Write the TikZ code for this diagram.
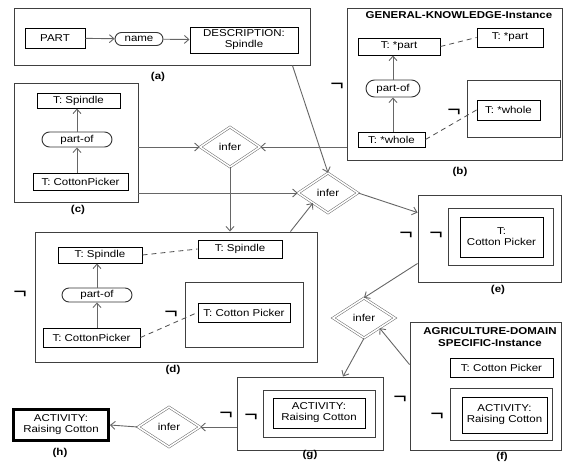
\documentclass[tikz,border=0pt]{standalone}
\usepackage{fontspec}
\setmainfont{Liberation Sans}[FakeStretch=1.15]
\usetikzlibrary{shapes.geometric,shapes.misc,arrows.meta}
\begin{document}
\begin{tikzpicture}[x=1pt,y=-1pt,
  every node/.style={font=\fontsize{10}{11}\selectfont, inner sep=0pt, align=center},
  frame/.style={draw=black!75, line width=0.9pt, rectangle},
  cbox/.style={draw=black, line width=1pt, rectangle},
  pill/.style={draw=black!80, line width=0.9pt, rounded rectangle},
  infer/.style={diamond, draw=black!60, line width=0.5pt, double, double distance=1.6pt, minimum width=60pt, minimum height=40pt},
  conn/.style={draw=black!60, line width=0.9pt, -{Straight Barb[length=4.5pt,width=8pt]}},
  dashline/.style={draw=black!70, line width=0.8pt, dash pattern=on 5pt off 4pt},
  neg/.style={font=\fontsize{20}{20}\selectfont, yshift=-4pt},
  capt/.style={font=\bfseries\fontsize{10}{11}\selectfont},
  ttl/.style={font=\bfseries\fontsize{10}{12}\selectfont}
]
\useasboundingbox (0,0) rectangle (563,464);

% (a)
\node[frame, minimum width=296pt, minimum height=57pt] (a) at (162,36.5) {};
\node[cbox, minimum width=60pt, minimum height=20pt] (part) at (55,38) {PART};
\node[pill, minimum width=48pt, minimum height=13pt] (name) at (139,39) {name};
\node[cbox, minimum width=108pt, minimum height=26pt] (desc) at (244,40) {DESCRIPTION:\\Spindle};
\node[capt] (capa) at (158,77) {(a)};

% (b)
\node[frame, minimum width=215pt, minimum height=152pt] (b) at (454.5,84) {};
\node[ttl] (btitle) at (459,15) {GENERAL-KNOWLEDGE-Instance};
\node[cbox, minimum width=82pt, minimum height=17pt] (bpart) at (399,46.5) {T: *part};
\node[cbox, minimum width=66pt, minimum height=19pt] (bpartr) at (510,37.5) {T: *part};
\node[pill, minimum width=54pt, minimum height=17pt] (bpo) at (393,88.5) {part-of};
\node[cbox, minimum width=67pt, minimum height=15pt] (bwhole) at (391.5,139.5) {T: *whole};
\node[frame, minimum width=93pt, minimum height=57pt] (bin) at (513.5,108.5) {};
\node[cbox, minimum width=63pt, minimum height=20pt] (bwholer) at (508.5,110) {T: *whole};
\node[neg] (nb1) at (454,109) {¬};
\node[neg] (nb2) at (337,83) {¬};
\node[capt] (capb) at (460,172) {(b)};

% (c)
\node[frame, minimum width=124pt, minimum height=119pt] (c) at (76,142.5) {};
\node[cbox, minimum width=83pt, minimum height=15pt] (cspin) at (78.5,100.5) {T: Spindle};
\node[pill, minimum width=70pt, minimum height=15pt] (cpo) at (77,139.5) {part-of};
\node[cbox, minimum width=95pt, minimum height=17pt] (ccp) at (80.5,181.5) {T: CottonPicker};
\node[capt] (capc) at (78,210) {(c)};

% infer diamonds
\node[infer] (i1) at (230,147) {infer};
\node[infer] (i2) at (328,193) {infer};
\node[infer, minimum width=62pt] (i3) at (364,318) {infer};
\node[infer, minimum width=62pt] (i4) at (169,427) {infer};

% (d)
\node[frame, minimum width=282pt, minimum height=130pt] (d) at (176,297) {};
\node[cbox, minimum width=84pt, minimum height=16pt] (dspin) at (100,255) {T: Spindle};
\node[cbox, minimum width=84pt, minimum height=18pt] (dspinr) at (240,249) {T: Spindle};
\node[pill, minimum width=70pt, minimum height=14pt] (dpo) at (97,295) {part-of};
\node[cbox, minimum width=97pt, minimum height=19pt] (dcp) at (91.5,337.5) {T: CottonPicker};
\node[frame, minimum width=118pt, minimum height=65pt] (din) at (244,314.5) {};
\node[cbox, minimum width=92pt, minimum height=19pt] (dcpr) at (244,312.5) {T: Cotton Picker};
\node[neg] (nd1) at (171,311) {¬};
\node[neg] (nd2) at (20,291) {¬};
\node[capt] (capd) at (173,370) {(d)};

% (e)
\node[frame, minimum width=143pt, minimum height=87pt] (e) at (489.5,238.5) {};
\node[frame, minimum width=105pt, minimum height=57pt] (ein) at (500.5,236.5) {};
\node[cbox, minimum width=83pt, minimum height=40pt] (ecp) at (501.5,237) {T:\\Cotton Picker};
\node[neg] (ne1) at (406,232) {¬};
\node[neg] (ne2) at (436,232) {¬};
\node[capt] (cape) at (498,290) {(e)};

% (f)
\node[frame, minimum width=151pt, minimum height=128pt] (f) at (485.5,386) {};
\node[ttl] (ftitle) at (490,337.5) {AGRICULTURE-DOMAIN\\SPECIFIC-Instance};
\node[cbox, minimum width=103pt, minimum height=19pt] (fcp) at (501.5,367.5) {T: Cotton Picker};
\node[frame, minimum width=102pt, minimum height=52pt] (fin) at (501,414) {};
\node[cbox, minimum width=85pt, minimum height=36pt] (fact) at (504.5,415) {ACTIVITY:\\Raising Cotton};
\node[neg] (nf1) at (437,413) {¬};
\node[neg] (nf2) at (400,396) {¬};
\node[capt] (capf) at (502,457) {(f)};

% (g)
\node[frame, minimum width=146pt, minimum height=73pt] (g) at (310,413.5) {};
\node[frame, minimum width=112pt, minimum height=47pt] (gin) at (319,413.5) {};
\node[cbox, minimum width=92pt, minimum height=30pt] (gact) at (319,413) {ACTIVITY:\\Raising Cotton};
\node[neg] (ng1) at (251,414) {¬};
\node[neg] (ng2) at (226,412) {¬};
\node[capt] (capg) at (310,455) {(g)};

% (h)
\node[draw=black, line width=3pt, minimum width=95pt, minimum height=31pt] (h) at (61,425) {ACTIVITY:\\Raising Cotton};
\node[capt] (caph) at (60,453) {(h)};

% connectors inside boxes
\draw[conn] (part) -- (name);
\draw[conn] (name) -- (desc);
\draw[conn] (bwhole.north -| bpo) -- (bpo.south);
\draw[conn] (bpo.north) -- (bpo.north |- bpart.south);
\draw[dashline] (bpart.east) -- (bpartr.west);
\draw[dashline] (bwhole.east) -- (bwholer.west);
\draw[conn] (ccp.north -| cpo) -- (cpo.south);
\draw[conn] (cpo.north) -- (cpo.north |- cspin.south);
\draw[conn] (dcp.north -| dpo) -- (dpo.south);
\draw[conn] (dpo.north) -- (dpo.north |- dspin.south);
\draw[dashline] (dspin.east) -- (dspinr.west);
\draw[dashline] (dcp.east) -- (dcpr.west);

% connectors between boxes
\draw[conn] (c.east |- i1.west) -- (i1.west);
\draw[conn] (b.west |- i1.east) -- (i1.east);
\draw[conn] (c.east |- i2.west) -- (i2.west);
\draw[conn] ([xshift=-18pt]a.south east) -- (i2.north);
\draw[conn] (i1.south) -- (i1.south |- d.north);
\draw[conn] ([xshift=-27pt]d.north east) -- (i2.south west);
\draw[conn] (i2.east) -- ([yshift=-18pt]e.north west);
\draw[conn] ([yshift=19pt]e.south west) -- (i3.north);
\draw[conn] ([yshift=-43pt]f.north west) -- (i3.south east);
\draw[conn] (i3.south) -- ([xshift=33pt]g.north);
\draw[conn] (g.west |- i4.east) -- (i4.east);
\draw[conn] (i4.west) -- (h.east);
\end{tikzpicture}
\end{document}
